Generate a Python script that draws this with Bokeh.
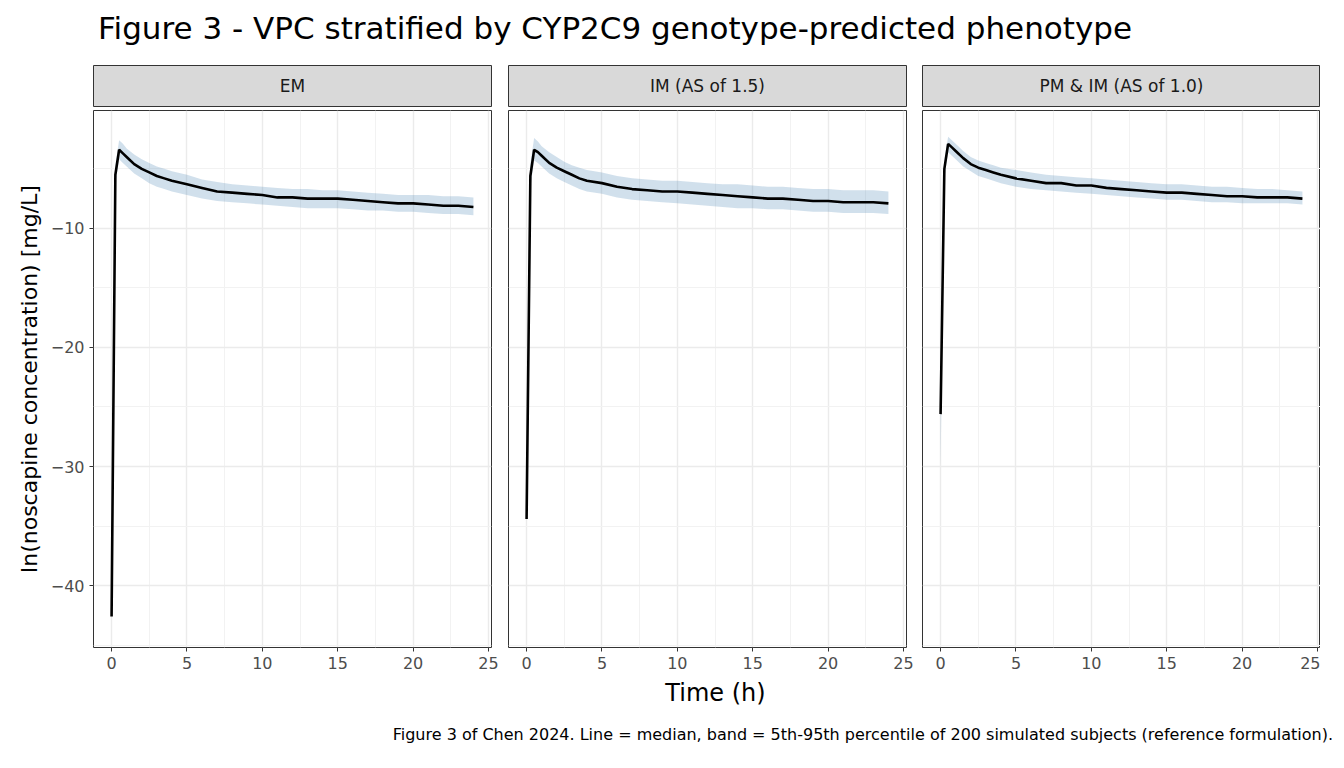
from bokeh.plotting import figure
from bokeh.layouts import column, row
from bokeh.models import Div, Range1d, FixedTicker, ColumnDataSource
from bokeh.core.properties import value
from bokeh.embed import file_html
from bokeh.resources import INLINE

TIME = [0, 0.25, 0.5, 0.75, 1, 1.5, 2, 2.5, 3, 3.5, 4, 5, 6, 7, 8, 9, 10, 11, 12, 13, 14, 15, 16, 17, 18, 19, 20, 21, 22, 23, 24]
PANELS = ["EM", "IM (AS of 1.5)", "PM & IM (AS of 1.0)"]
EM_MED = [-42.6, -5.5, -3.4, -3.7, -4.0, -4.6, -5.0, -5.3, -5.6, -5.8, -6.0, -6.3, -6.6, -6.9, -7.0, -7.1, -7.2, -7.4, -7.4, -7.5, -7.5, -7.5, -7.6, -7.7, -7.8, -7.9, -7.9, -8.0, -8.1, -8.1, -8.2]
EM_LO = [-42.9, -6.3, -4.2, -4.5, -4.8, -5.4, -5.8, -6.2, -6.5, -6.7, -6.9, -7.2, -7.5, -7.7, -7.8, -7.9, -8.0, -8.1, -8.2, -8.3, -8.3, -8.3, -8.4, -8.5, -8.5, -8.6, -8.6, -8.7, -8.8, -8.8, -8.9]
EM_HI = [-42.3, -4.7, -2.6, -2.9, -3.3, -3.8, -4.2, -4.5, -4.8, -5.0, -5.2, -5.5, -5.9, -6.1, -6.3, -6.4, -6.5, -6.6, -6.7, -6.7, -6.8, -6.8, -6.9, -7.0, -7.1, -7.2, -7.2, -7.2, -7.3, -7.3, -7.4]
IM_MED = [-34.4, -5.6, -3.4, -3.6, -3.9, -4.5, -4.9, -5.2, -5.5, -5.8, -6.0, -6.2, -6.5, -6.7, -6.8, -6.9, -6.9, -7.0, -7.1, -7.2, -7.3, -7.4, -7.5, -7.5, -7.6, -7.7, -7.7, -7.8, -7.8, -7.8, -7.9]
IM_LO = [-34.8, -6.5, -4.3, -4.5, -4.8, -5.4, -5.8, -6.1, -6.4, -6.7, -6.9, -7.1, -7.4, -7.6, -7.7, -7.8, -7.9, -8.0, -8.1, -8.2, -8.3, -8.3, -8.4, -8.4, -8.5, -8.6, -8.6, -8.7, -8.7, -8.7, -8.8]
IM_HI = [-34.0, -4.6, -2.4, -2.7, -3.1, -3.6, -4.0, -4.4, -4.7, -4.9, -5.1, -5.3, -5.6, -5.8, -5.9, -6.0, -6.0, -6.1, -6.2, -6.3, -6.3, -6.4, -6.5, -6.5, -6.6, -6.7, -6.7, -6.8, -6.8, -6.8, -6.9]
PM_MED = [-25.6, -5.0, -2.9, -3.2, -3.5, -4.1, -4.6, -4.9, -5.1, -5.3, -5.5, -5.8, -6.0, -6.2, -6.2, -6.4, -6.4, -6.6, -6.7, -6.8, -6.9, -7.0, -7.0, -7.1, -7.2, -7.3, -7.3, -7.4, -7.4, -7.4, -7.5]
PM_LO = [-30.0, -5.7, -3.6, -3.9, -4.2, -4.8, -5.2, -5.6, -5.8, -6.0, -6.2, -6.5, -6.7, -6.8, -6.9, -7.0, -7.1, -7.2, -7.3, -7.4, -7.5, -7.6, -7.6, -7.7, -7.8, -7.8, -7.9, -7.9, -7.9, -7.9, -8.0]
PM_HI = [-25.4, -4.2, -2.3, -2.6, -2.9, -3.5, -4.0, -4.3, -4.5, -4.7, -4.9, -5.1, -5.3, -5.5, -5.6, -5.7, -5.8, -5.9, -6.0, -6.1, -6.2, -6.3, -6.3, -6.4, -6.5, -6.5, -6.6, -6.7, -6.7, -6.8, -6.9]
X_TICKS = [0, 5, 10, 15, 20, 25]
Y_TICKS = [-40, -30, -20, -10]

DATA = [(EM_MED, EM_LO, EM_HI), (IM_MED, IM_LO, IM_HI), (PM_MED, PM_LO, PM_HI)]
FONT = "DejaVu Sans"
borders_l = [93, 0, 0]
borders_r = [17, 16, 0]

cols = []
for i, (name, (med, lo, hi)) in enumerate(zip(PANELS, DATA)):
    s = figure(frame_width=398, frame_height=41, output_backend="svg", toolbar_location=None,
               x_range=Range1d(0, 1), y_range=Range1d(0, 1),
               min_border_left=borders_l[i], min_border_right=borders_r[i],
               min_border_top=0, min_border_bottom=4)
    s.axis.visible = False
    s.grid.visible = False
    s.background_fill_color = "#d9d9d9"
    s.outline_line_color = "#333333"
    s.text(x=[0.5], y=[0.5], text=[name], text_align="center", text_baseline="middle",
           text_font=value(FONT), text_font_size="17px", text_color="#1a1a1a")

    p = figure(frame_width=398, frame_height=537, output_backend="svg", toolbar_location=None,
               x_range=Range1d(-1.2, 25.2), y_range=Range1d(-45.2, -0.1),
               min_border_left=borders_l[i], min_border_right=borders_r[i],
               min_border_top=0, min_border_bottom=8)
    src = ColumnDataSource(dict(t=TIME, med=med, lo=lo, hi=hi))
    p.varea(x="t", y1="lo", y2="hi", source=src, fill_color="#4682b4", fill_alpha=0.25)
    p.line(x="t", y="med", source=src, line_color="black", line_width=2.6)
    p.xaxis.ticker = FixedTicker(ticks=X_TICKS, minor_ticks=[2.5, 7.5, 12.5, 17.5, 22.5])
    p.yaxis.ticker = FixedTicker(ticks=Y_TICKS, minor_ticks=[-45, -35, -25, -15, -5])
    p.xgrid.grid_line_color = "#ebebeb"
    p.ygrid.grid_line_color = "#ebebeb"
    p.xgrid.grid_line_width = 1.4
    p.ygrid.grid_line_width = 1.4
    p.xgrid.minor_grid_line_color = "#f2f2f2"
    p.ygrid.minor_grid_line_color = "#f2f2f2"
    p.outline_line_color = "#333333"
    p.axis.minor_tick_line_color = None
    p.axis.axis_line_color = None
    p.axis.major_tick_line_color = "#333333"
    p.axis.major_tick_in = 0
    p.axis.major_tick_out = 4
    p.axis.major_label_text_font = FONT
    p.axis.major_label_text_font_size = "16px"
    p.axis.major_label_text_color = "#4d4d4d"
    if i == 0:
        p.yaxis.axis_label = "ln(noscapine concentration) [mg/L]"
        p.yaxis.axis_label_text_font = FONT
        p.yaxis.axis_label_text_font_size = "22px"
        p.yaxis.axis_label_text_font_style = "normal"
        p.yaxis.axis_label_text_color = "black"
        p.yaxis.axis_label_standoff = 6
    else:
        p.yaxis.visible = False
    cols.append(column(s, p, spacing=0))

title = Div(text="Figure 3 - VPC stratified by CYP2C9 genotype-predicted phenotype", width=1328, height=55,
            styles={"font-family": FONT, "font-size": "31px", "color": "black", "padding-left": "93px",
                    "line-height": "46px", "white-space": "nowrap"})
xlab = Div(text="Time (h)", width=1328, height=34,
           styles={"font-family": FONT, "font-size": "24px", "color": "black", "text-align": "center",
                   "padding-left": "93px", "white-space": "nowrap", "line-height": "34px"})
cap = Div(text="Figure 3 of Chen 2024. Line = median, band = 5th-95th percentile of 200 simulated subjects (reference formulation).",
          width=1328, height=30,
          styles={"font-family": FONT, "font-size": "16px", "color": "black", "white-space": "nowrap",
                  "text-align": "right", "line-height": "30px"})
layout = column(title, row(*cols, spacing=0), xlab, cap, spacing=0)
open("out.html", "w").write(file_html(layout, INLINE))
